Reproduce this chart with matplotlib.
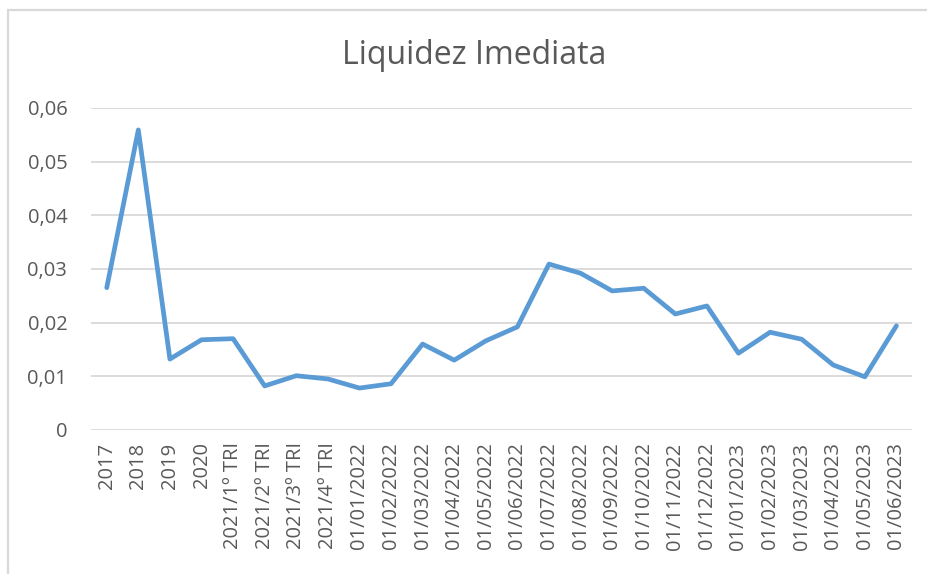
import matplotlib
matplotlib.use("Agg")
import matplotlib.pyplot as plt
from matplotlib.patches import Rectangle
from matplotlib.ticker import FuncFormatter

# categories and values
labels = ["2017", "2018", "2019", "2020",
          "2021/1º TRI", "2021/2º TRI", "2021/3º TRI", "2021/4º TRI",
          "01/01/2022", "01/02/2022", "01/03/2022", "01/04/2022",
          "01/05/2022", "01/06/2022", "01/07/2022", "01/08/2022",
          "01/09/2022", "01/10/2022", "01/11/2022", "01/12/2022",
          "01/01/2023", "01/02/2023", "01/03/2023", "01/04/2023",
          "01/05/2023", "01/06/2023"]
liquidez = [0.0265, 0.0559, 0.0132, 0.0168,
            0.0170, 0.0082, 0.0101, 0.0095,
            0.0078, 0.0086, 0.0160, 0.0130,
            0.0166, 0.0192, 0.0309, 0.0292,
            0.0259, 0.0264, 0.0216, 0.0231,
            0.0143, 0.0182, 0.0169, 0.0121,
            0.0099, 0.0194]

plt.rcParams['font.family'] = ['Open Sans', 'DejaVu Sans']
text_color = '#595959'
grid_color = '#d9d9d9'

fig = plt.figure(figsize=(9.28, 5.74), dpi=100)
ax = fig.add_axes([0.098, 0.251, 0.885, 0.561])

# outer chart frame (only left/top visible in the crop)
fig.patches.append(Rectangle((8.5 / 928, -0.1), 1.2, 1 - 9.5 / 574 + 0.1,
                             transform=fig.transFigure, fill=False,
                             edgecolor=grid_color, linewidth=1.6))

x = list(range(len(labels)))
ax.plot(x, liquidez, color='#5b9bd5', linewidth=3.4,
        solid_joinstyle='round', solid_capstyle='round', zorder=3)

ax.set_xlim(-0.5, len(labels) - 0.5)
ax.set_ylim(0, 0.06)
ax.set_yticks([0, 0.01, 0.02, 0.03, 0.04, 0.05, 0.06])
ax.yaxis.set_major_formatter(FuncFormatter(
    lambda v, p: '0' if v == 0 else f'{v:.2f}'.replace('.', ',')))
ax.set_xticks(x)
ax.set_xticklabels(labels, rotation=90)

ax.grid(axis='y', color=grid_color, linewidth=1.3)
ax.set_axisbelow(True)
for s in ax.spines.values():
    s.set_visible(False)
ax.tick_params(axis='both', length=0, labelsize=14.5, colors=text_color)
ax.tick_params(axis='y', pad=17)
ax.tick_params(axis='x', pad=9)

fig.text(0.511, 0.904, 'Liquidez Imediata', ha='center', va='center',
         fontsize=23, color=text_color)

fig.savefig('out.png', dpi=100)
